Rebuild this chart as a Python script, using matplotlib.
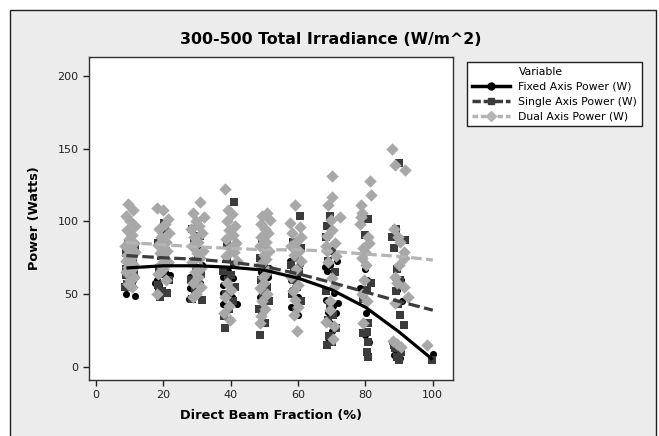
import matplotlib
matplotlib.use("Agg")
import matplotlib.pyplot as plt
from matplotlib.lines import Line2D
from matplotlib.patches import Rectangle

plt.rcParams['font.family'] = ['DejaVu Sans']

# Fixed Axis Power (W) - black circles
fixed_x = [9.0, 9.6, 10.3, 11.0, 11.6, 9.3, 10.0, 10.8, 11.3, 9.8, 10.5, 11.5,
           18.4, 22.0, 21.4, 17.5, 18.0, 21.0, 19.5, 20.4, 18.8,
           27.9, 28.0, 30.9, 27.6, 28.4, 29.5, 31.5, 30.2,
           37.7, 37.7, 40.7, 42.0, 39.9, 37.6, 38.6, 40.4, 37.8, 39.2, 41.0,
           48.6, 49.4, 50.3, 51.2, 48.9, 50.8, 49.8, 51.5, 49.1,
           57.6, 60.5, 58.4, 59.7, 57.8, 59.1, 58.2, 60.1, 57.9, 60.0,
           71.5, 69.4, 68.0, 68.7, 70.6, 68.2, 71.8, 70.3, 68.8, 71.2, 69.5, 70.2, 69.0,
           79.8, 80.4, 78.3, 79.0, 80.2, 79.4, 80.0, 81.2,
           88.7, 90.7, 89.4, 90.9, 89.6, 88.0, 89.2, 90.5, 89.9, 88.6, 90.3,
           100.0]
fixed_y = [50, 55, 58, 60, 62, 64, 66, 68, 70, 72, 57, 49,
           53, 63, 61, 58, 60, 63, 66, 65, 56,
           62, 54, 58, 47, 60, 66, 70, 65,
           62, 56, 61, 43, 55, 51, 63, 48, 43, 66, 70,
           48, 52, 58, 62, 65, 55, 40, 68, 35,
           73, 71, 67, 62, 60, 55, 53, 48, 41, 36,
           73, 70, 69, 66, 51, 46, 44, 42, 38, 37, 30, 25, 20,
           67, 60, 54, 47, 37, 30, 22, 17,
           61, 60, 53, 45, 44, 17, 15, 13, 10, 8, 6,
           9]

# Single Axis Power (W) - dark grey squares
single_x = [8.7, 9.3, 10.0, 10.6, 11.2, 8.9, 9.7, 10.4, 11.1, 9.0, 10.2, 11.6, 9.5, 10.8, 8.8, 11.4, 10.1,
            20.5, 21.2, 19.6, 19.0, 18.3, 21.6, 20.0, 18.8, 21.0, 19.3, 20.7, 18.5, 20.2,
            31.5, 28.6, 29.4, 30.6, 28.2, 31.2, 29.8, 28.9, 30.3, 31.0, 29.1, 30.8, 28.5,
            41.0, 38.3, 38.0, 39.6, 40.8, 38.6, 41.4, 39.3, 40.1, 37.8, 41.1, 39.0, 40.5, 38.9,
            48.7, 49.4, 50.2, 48.4, 51.3, 49.6, 50.8, 48.9, 51.0, 49.9, 48.6, 50.5, 49.2,
            60.5, 58.4, 61.0, 59.2, 58.0, 60.3, 58.8, 59.7, 58.3, 60.8, 59.5,
            69.4, 68.6, 68.2, 70.2, 69.0, 71.0, 68.4, 69.6, 70.5, 68.8, 71.3, 69.2, 70.0, 68.5,
            80.7, 79.8, 81.7, 80.4, 79.2, 80.9, 80.6, 79.4, 80.9, 80.5, 80.8,
            90.0, 89.0, 87.8, 91.7, 88.4, 89.5, 90.4, 89.0, 89.7, 90.2, 91.4, 88.6, 88.9, 90.6, 89.3, 90.1,
            99.7]
single_y = [55, 57, 60, 62, 65, 67, 70, 72, 75, 78, 80, 83, 85, 58, 63, 68, 73,
            94, 51, 52, 48, 56, 60, 64, 68, 72, 76, 80, 85, 99,
            46, 47, 52, 56, 60, 64, 68, 72, 76, 80, 85, 90, 95,
            113, 27, 35, 40, 45, 50, 55, 60, 63, 66, 70, 75, 80, 85,
            22, 37, 30, 40, 45, 50, 55, 60, 65, 70, 75, 80, 88,
            104, 86, 82, 75, 70, 65, 60, 55, 50, 45, 38,
            104, 97, 89, 80, 73, 65, 52, 41, 36, 32, 27, 21, 17, 15,
            102, 91, 58, 53, 47, 30, 24, 23, 17, 10, 7,
            140, 95, 89, 87, 82, 67, 60, 52, 43, 36, 29, 15, 13, 10, 7, 5,
            5]

# Dual Axis Power (W) - light grey diamonds
dual_x = [9.5, 10.9, 8.8, 10.2, 11.5, 9.1, 10.6, 9.8, 11.2, 8.7, 10.0, 11.7, 9.3, 10.4, 8.9, 11.0, 9.6, 10.8, 9.0, 11.4, 10.1, 9.4, 10.7,
          18.0, 19.8, 21.3, 20.5, 18.6, 21.8, 19.2, 20.9, 18.3, 19.6, 21.0, 18.9, 20.3, 21.5, 19.0, 20.0, 18.5, 20.7, 18.1,
          31.0, 28.8, 32.2, 29.6, 30.6, 28.3, 31.5, 29.2, 30.2, 28.6, 31.8, 29.9, 30.9, 28.5, 31.3, 29.4, 30.4, 28.9, 31.1, 29.7, 28.7,
          38.3, 39.2, 40.3, 38.8, 41.2, 39.6, 40.7, 38.5, 41.5, 39.9, 40.9, 38.6, 41.8, 39.0, 40.2, 38.2, 39.4, 38.0, 39.8,
          50.7, 49.4, 51.6, 48.9, 50.2, 51.2, 49.0, 50.6, 48.6, 51.4, 49.8, 50.4, 48.8, 51.0, 49.5, 50.0, 48.7, 50.9, 49.2, 50.3, 49.0, 48.7,
          59.0, 57.6, 60.6, 58.3, 60.9, 59.5, 57.9, 60.2, 58.7, 60.8, 59.3, 58.0, 59.9, 58.5, 59.0, 60.0, 58.9, 59.6,
          70.0, 70.0, 68.8, 72.5, 69.9, 70.1, 68.5, 71.0, 68.2, 68.6, 71.4, 69.0, 70.1, 70.8, 69.6, 69.4, 68.2, 70.6, 70.5,
          81.3, 81.5, 78.7, 79.1, 78.7, 78.3, 80.7, 81.1, 79.3, 79.8, 79.1, 80.3, 79.6, 79.0, 80.6, 79.4,
          88.0, 88.7, 91.7, 88.6, 89.7, 90.3, 91.5, 91.4, 90.0, 88.7, 89.5, 91.4, 92.6, 88.8, 88.3, 89.4, 90.6,
          98.2]
dual_y = [112, 108, 104, 100, 97, 94, 91, 88, 85, 83, 81, 79, 77, 75, 73, 71, 69, 67, 65, 62, 60, 57, 55,
          109, 108, 102, 98, 95, 92, 89, 86, 84, 82, 80, 78, 75, 72, 70, 67, 64, 60, 50,
          113, 106, 103, 100, 97, 95, 92, 89, 86, 83, 80, 78, 75, 72, 68, 65, 62, 58, 55, 50, 48,
          122, 108, 105, 100, 97, 94, 91, 88, 85, 82, 79, 76, 73, 58, 53, 48, 42, 37, 32,
          106, 104, 101, 98, 95, 92, 89, 86, 83, 80, 77, 74, 70, 66, 62, 58, 54, 50, 45, 40, 35, 30,
          111, 99, 96, 92, 89, 86, 83, 80, 77, 73, 67, 62, 56, 52, 46, 41, 36, 25,
          131, 117, 111, 103, 101, 94, 90, 85, 83, 80, 76, 72, 61, 55, 45, 39, 31, 28, 19,
          128, 118, 111, 106, 103, 98, 89, 85, 82, 79, 75, 70, 60, 50, 45, 30,
          150, 139, 135, 95, 89, 86, 79, 75, 70, 62, 58, 55, 48, 44, 18, 16, 14,
          15]

# fitted trend lines
fit_x = [9, 20, 30, 40, 50, 60, 70, 80, 90, 100]
fit_fixed = [68, 69.5, 69.5, 68.5, 66.5, 61, 53, 41, 24, 5]
fit_single = [76.5, 75, 74, 72, 69, 64, 58, 51.5, 45, 39]
fit_dual = [85.5, 84, 82.5, 81.5, 80.5, 80.5, 79.5, 77.5, 76, 73.5]

labels = ['Fixed Axis Power (W)', 'Single Axis Power (W)', 'Dual Axis Power (W)']
c_fixed, c_single, c_dual = '#000000', '#3c3c3c', '#a8a8a8'

fig = plt.figure(figsize=(6.59, 4.36), dpi=100, facecolor='white')
fig.patches.append(Rectangle((10 / 659, -0.05), 646 / 659, 1 - 10 / 436 + 0.05,
                             transform=fig.transFigure, facecolor='#ececec',
                             edgecolor='#202020', linewidth=1.0, zorder=-10))

ax = fig.add_axes([89 / 659, 1 - 380 / 436, 364 / 659, 323 / 436])
ax.set_facecolor('white')

ax.scatter(fixed_x, fixed_y, s=26, marker='o', color=c_fixed, linewidths=0, zorder=2)
ax.scatter(single_x, single_y, s=32, marker='s', color=c_single, linewidths=0, zorder=3)
ax.scatter(dual_x, dual_y, s=40, marker='D', color=c_dual, linewidths=0, zorder=4)

ax.plot(fit_x, fit_fixed, color=c_fixed, lw=2.3, zorder=6, solid_capstyle='butt')
ax.plot(fit_x, fit_single, color=c_single, lw=2.3, dashes=(3.6, 1.4), zorder=6)
ax.plot(fit_x, fit_dual, color='#b4b4b4', lw=2.3, dashes=(3.3, 1.4), zorder=6)

ax.set_xlim(-2.1, 106)
ax.set_ylim(-9, 213)
ax.set_xticks([0, 20, 40, 60, 80, 100])
ax.set_yticks([0, 50, 100, 150, 200])
ax.tick_params(direction='out', length=4, width=1, labelsize=8, colors='#202020')
for sp in ax.spines.values():
    sp.set_color('#303030')
    sp.set_linewidth(1.0)

ax.set_xlabel('Direct Beam Fraction (%)', fontsize=9.3, fontweight='bold', labelpad=6)
ax.set_ylabel('Power (Watts)', fontsize=9.3, fontweight='bold', labelpad=12)
fig.text(331 / 659, 1 - 40 / 436, '300-500 Total Irradiance (W/m^2)', ha='center', va='center',
         fontsize=11.3, fontweight='bold')

handles = [
    Line2D([], [], linestyle='none', marker=None),
    Line2D([], [], color=c_fixed, lw=2.5, marker='o', markersize=5),
    Line2D([], [], color=c_single, lw=2.5, marker='s', markersize=5, dashes=(2.4, 0.8)),
    Line2D([], [], color='#b4b4b4', lw=2.5, marker='D', markersize=5, dashes=(1.6, 0.8)),
]
leg = fig.legend(handles, ['Variable'] + labels, loc='upper left',
                 bbox_to_anchor=(467 / 659, 1 - 62 / 436), fontsize=7.8,
                 frameon=True, fancybox=False, edgecolor='#202020', framealpha=1,
                 handlelength=3.5, handletextpad=0.8, borderpad=0.45, labelspacing=0.45,
                 borderaxespad=0)
leg.get_frame().set_linewidth(1.0)

fig.savefig('out.png', dpi=100, facecolor=fig.get_facecolor())
